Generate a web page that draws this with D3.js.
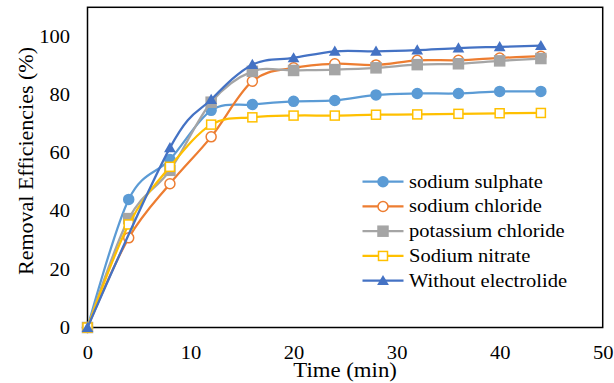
<!DOCTYPE html>
<html>
<head>
<meta charset="utf-8">
<script src="https://cdn.jsdelivr.net/npm/d3@7"></script>
<style>
  body { margin: 0; background: #fff; }
</style>
</head>
<body>
<div id="chart"></div>
<script>
// time points (min)
const times = [0, 4, 8, 12, 16, 20, 24, 28, 32, 36, 40, 44]

// removal efficiencies (%)
const sodiumSulphate   = [0, 44, 57.7, 74.6, 76.6, 77.7, 78, 79.9, 80.4, 80.4, 81.1, 81.1]
const sodiumChloride   = [0, 30.8, 49.4, 65.5, 84.6, 89.2, 90.6, 90.2, 91.8, 91.8, 92.6, 93.2]
const potassiumChlor   = [0, 37.4, 54, 77.4, 88, 88.3, 88.6, 89.2, 90.3, 90.6, 91.6, 92.4]
const sodiumNitrate    = [0, 35.4, 55.2, 69.7, 72.2, 72.8, 72.8, 73.1, 73.2, 73.4, 73.6, 73.7]
// no marker is visible at 4 min for this one
const withoutElectro   = [0, null, 61.7, 78.3, 90.3, 92.6, 94.9, 94.9, 95.3, 96, 96.4, 96.8]

const seriesNames = ["sodium sulphate", "sodium chloride", "potassium chloride", "Sodium nitrate", "Without electrolide"]
const seriesValues = [sodiumSulphate, sodiumChloride, potassiumChlor, sodiumNitrate, withoutElectro]

const xTicks = [0, 10, 20, 30, 40, 50]
const yTicks = [0, 20, 40, 60, 80, 100]

const colors = ["#5B9BD5", "#ED7D31", "#A5A5A5", "#FFC000", "#4472C4"]
const shapes = ["circle", "hollowCircle", "square", "hollowSquare", "triangle"]

const W = 614, H = 383
const FONT = "'Liberation Serif', 'Times New Roman', serif"
const stretch = "scale(1.14,1)"   // text in the figure looks a bit wide

var svg = d3.select("#chart").append("svg")
  .attr("width", W)
  .attr("height", H)

var x = d3.scaleLinear().domain([0, 50]).range([87.5, 602.7])
var y = d3.scaleLinear().domain([0, 110]).range([327.5, 7.3])

// x axis labels
var gx = svg.append("g")
  .attr("transform", "translate(0," + y(0) + ")")
  .call(d3.axisBottom(x).tickValues(xTicks).tickSize(0).tickPadding(18.5))
gx.select(".domain").remove()
gx.attr("font-family", null)
gx.selectAll("text").style("font-family", FONT).style("font-size", "18px").attr("transform", stretch)

// y axis labels
var gy = svg.append("g")
  .attr("transform", "translate(" + x(0) + ",0)")
  .call(d3.axisLeft(y).tickValues(yTicks).tickSize(0).tickPadding(15.3))
gy.select(".domain").remove()
gy.attr("font-family", null)
gy.selectAll("text").style("font-family", FONT).style("font-size", "18px").attr("transform", stretch)

// plot frame
svg.append("rect")
  .attr("x", x(0))
  .attr("y", y(110))
  .attr("width", x(50) - x(0))
  .attr("height", y(0) - y(110))
  .attr("fill", "none")
  .attr("stroke", "#000")
  .attr("stroke-width", 1.5)

svg.append("text")
  .attr("text-anchor", "middle")
  .attr("transform", "translate(" + (x(0) + x(50)) / 2 + ",377) " + stretch)
  .style("font-family", FONT)
  .style("font-size", "20px")
  .text("Time (min)")

svg.append("text")
  .attr("text-anchor", "middle")
  .attr("transform", "translate(33,161) rotate(-90)")
  .style("font-family", FONT)
  .style("font-size", "22px")
  .text("Removal Efficiencies (%)")

var line = d3.line()
  .x(d => x(d[0]))
  .y(d => y(d[1]))
  .curve(d3.curveCatmullRom.alpha(0))

function drawMarker(g, shape, color, cx, cy) {
  if (shape == "circle" || shape == "hollowCircle") {
    g.append("circle")
      .attr("cx", cx).attr("cy", cy).attr("r", 5)
      .attr("fill", shape == "circle" ? color : "#fff")
      .attr("stroke", color).attr("stroke-width", 1.5)
  } else if (shape == "square" || shape == "hollowSquare") {
    var s = shape == "square" ? 10 : 9
    g.append("rect")
      .attr("x", cx - s / 2).attr("y", cy - s / 2)
      .attr("width", s).attr("height", s)
      .attr("fill", shape == "square" ? color : "#fff")
      .attr("stroke", color).attr("stroke-width", 1.5)
  } else {
    g.append("path")
      .attr("d", d3.symbol().type(d3.symbolTriangle).size(60)())
      .attr("transform", "translate(" + cx + "," + (cy + 1) + ")")
      .attr("fill", color)
  }
}

seriesValues.forEach(function (vals, i) {
  var pts = times.map((t, j) => [t, vals[j]]).filter(d => d[1] != null)
  var g = svg.append("g")
  g.append("path")
    .attr("d", line(pts))
    .attr("fill", "none")
    .attr("stroke", colors[i])
    .attr("stroke-width", 2.25)
  pts.forEach(function (d) {
    drawMarker(g, shapes[i], colors[i], x(d[0]), y(d[1]))
  })
})

// legend
var legend = svg.append("g")
seriesNames.forEach(function (name, i) {
  var ly = 181.7 + i * 24.75
  legend.append("line")
    .attr("x1", 362.5).attr("x2", 403.5)
    .attr("y1", ly).attr("y2", ly)
    .attr("stroke", colors[i]).attr("stroke-width", 2.25)
  drawMarker(legend, shapes[i], colors[i], 383, ly)
  legend.append("text")
    .attr("transform", "translate(409," + (ly + 6) + ") " + stretch)
    .style("font-family", FONT)
    .style("font-size", "18px")
    .text(name)
})
</script>
</body>
</html>
